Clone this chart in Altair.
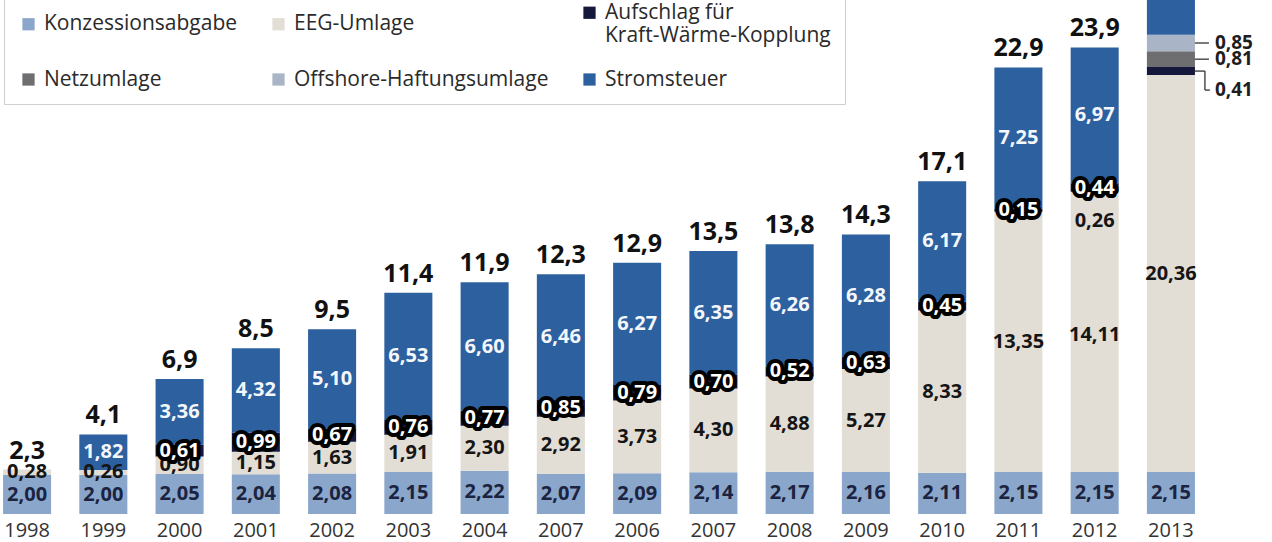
import json
import altair as alt
import pandas as pd

# ---------------- data (Mrd. Euro) ----------------
years = list(range(1998, 2014))
year_labels = ["1998", "1999", "2000", "2001", "2002", "2003", "2004", "2007",
               "2006", "2007", "2008", "2009", "2010", "2011", "2012", "2013"]

konzession = [2.00, 2.00, 2.05, 2.04, 2.08, 2.15, 2.22, 2.07, 2.09, 2.14, 2.17, 2.16, 2.11, 2.15, 2.15, 2.15]
eeg = [0.28, 0.26, 0.90, 1.15, 1.63, 1.91, 2.30, 2.92, 3.73, 4.30, 4.88, 5.27, 8.33, 13.35, 14.11, 20.36]
eeg_extra = [0, 0, 0, 0, 0, 0, 0, 0, 0, 0, 0, 0, 0, 0, 0.26, 0]   # 2012: 0,26 drawn in beige
kwk = [0, 0, 0.61, 0.99, 0.67, 0.76, 0.77, 0.85, 0.79, 0.70, 0.52, 0.63, 0.45, 0.15, 0.44, 0.41]
netz = [0, 0, 0, 0, 0, 0, 0, 0, 0, 0, 0, 0, 0, 0, 0, 0.81]
offshore = [0, 0, 0, 0, 0, 0, 0, 0, 0, 0, 0, 0, 0, 0, 0, 0.85]
stromsteuer = [0, 1.82, 3.36, 4.32, 5.10, 6.53, 6.60, 6.46, 6.27, 6.35, 6.26, 6.28, 6.17, 7.25, 6.97, 7.00]
totals = ["2,3", "4,1", "6,9", "8,5", "9,5", "11,4", "11,9", "12,3", "12,9", "13,5",
          "13,8", "14,3", "17,1", "22,9", "23,9", None]

KONZ = "Konzessionsabgabe"
EEG = "EEG-Umlage"
KWK = "Aufschlag für|Kraft-Wärme-Kopplung"
NETZ = "Netzumlage"
OFF = "Offshore-Haftungsumlage"
STROM = "Stromsteuer"

# legend fills column by column (2 rows): col1 Konz/Netz, col2 EEG/Offshore, col3 KWK/Strom
legend_order = [KONZ, NETZ, EEG, OFF, KWK, STROM]
legend_colors = ["#8aa7cb", "#6e6e70", "#e2ded5", "#a9b5c6", "#15173b", "#2d609f"]

# stacking order, bottom to top
stack = [
    (KONZ, konzession, "konz"),
    (EEG, eeg, "eeg"),
    (EEG, eeg_extra, "eeg_extra"),
    (KWK, kwk, "kwk"),
    (NETZ, netz, "side"),
    (OFF, offshore, "side"),
    (STROM, stromsteuer, "strom"),
]

rows = []
tot_rows = []
for i, yr in enumerate(years):
    base = 0.0
    for name, vals, kind in stack:
        v = vals[i]
        if v <= 0:
            continue
        k = kind
        if kind == "kwk" and yr == 2013:
            k = "side_kwk"
        rows.append({
            "Jahr": yr, "Reihe": name, "wert": v, "y0": base, "y1": base + v,
            "mid": base + v / 2, "text": f"{v:.2f}".replace(".", ","), "kind": k,
        })
        base += v
    if totals[i] is not None:
        tot_rows.append({"Jahr": yr, "top": base, "text": totals[i]})

df = pd.DataFrame(rows)
df_tot = pd.DataFrame(tot_rows)

FONT = "Open Sans"
label_expr = f"{json.dumps(year_labels)}[datum.value - {years[0]}]"

x = alt.X("Jahr:O",
          scale=alt.Scale(paddingInner=0.37, paddingOuter=0.04),
          axis=alt.Axis(title=None, labelExpr=label_expr, domain=False, ticks=False,
                        labelAngle=0, labelFont=FONT, labelFontSize=20,
                        labelColor="#333333", labelPadding=6))
yscale = alt.Scale(domain=[0, 26.36], nice=False, zero=True)

base = alt.Chart(df)

bars = base.mark_bar(clip=True).encode(
    x=x,
    y=alt.Y("y0:Q", scale=yscale, axis=None),
    y2="y1:Q",
    color=alt.Color("Reihe:N",
                    scale=alt.Scale(domain=legend_order, range=legend_colors),
                    legend=alt.Legend(
                        title=None, orient="none", legendX=4, legendY=-12,
                        columns=3, symbolType="square", symbolSize=150,
                        symbolStrokeWidth=0, labelFont=FONT, labelFontSize=21,
                        labelColor="#2a2a2a", labelOffset=5, columnPadding=30,
                        rowPadding=22, padding=14, strokeColor="#cfcfcf",
                        fillColor="white", labelLimit=400,
                        labelExpr="split(datum.label, '|')")),
)

def txt(kind_filter, **kw):
    params = dict(font=FONT, fontWeight="bold", fontSize=20, clip=True)
    params.update(kw)
    return base.transform_filter(kind_filter).mark_text(**params).encode(
        x=x, y=alt.Y("mid:Q", scale=yscale), text="text:N")

konz_lbl = txt("datum.kind == 'konz'", color="#1b2340")
eeg_lbl = txt("datum.kind == 'eeg'", color="#151515")
eeg_extra_lbl = txt("datum.kind == 'eeg_extra'", color="#151515", dy=27)
strom_lbl = txt("datum.kind == 'strom'", color="#f4f7fb")
kwk_halo = txt("datum.kind == 'kwk'", color="#000000", stroke="#000000",
               strokeWidth=8, strokeJoin="round")
kwk_lbl = txt("datum.kind == 'kwk'", color="#ffffff")

side_lbl = base.transform_filter("datum.kind == 'side'").mark_text(
    font=FONT, fontWeight="bold", fontSize=19, color="#1e1e1e", align="left", dx=44
).encode(x=x, y=alt.Y("mid:Q", scale=yscale), text="text:N")
side_kwk_lbl = base.transform_filter("datum.kind == 'side_kwk'").mark_text(
    font=FONT, fontWeight="bold", fontSize=19, color="#1e1e1e", align="left", dx=44, dy=19
).encode(x=x, y=alt.Y("mid:Q", scale=yscale), text="text:N")

side_rules = base.transform_filter("datum.kind == 'side'").mark_rule(
    color="#333333", strokeWidth=1.3, xOffset=24, x2Offset=38
).encode(x=x, x2="Jahr:O", y=alt.Y("mid:Q", scale=yscale))
kwk_rule_a = base.transform_filter("datum.kind == 'side_kwk'").mark_rule(
    color="#333333", strokeWidth=1.3, xOffset=24, x2Offset=34
).encode(x=x, x2="Jahr:O", y=alt.Y("mid:Q", scale=yscale))
kwk_rule_b = base.transform_filter("datum.kind == 'side_kwk'").mark_rule(
    color="#333333", strokeWidth=1.3, xOffset=34, y2Offset=19
).encode(x=x, y=alt.Y("mid:Q", scale=yscale), y2="mid:Q")
kwk_rule_c = base.transform_filter("datum.kind == 'side_kwk'").mark_rule(
    color="#333333", strokeWidth=1.3, xOffset=34, x2Offset=39, yOffset=19
).encode(x=x, x2="Jahr:O", y=alt.Y("mid:Q", scale=yscale))

total_lbl = alt.Chart(df_tot).mark_text(
    font=FONT, fontWeight="bold", fontSize=25, color="#111111",
    baseline="bottom", dy=-6, clip=True
).encode(x=x, y=alt.Y("top:Q", scale=yscale), text="text:N")

chart = alt.layer(
    bars, konz_lbl, eeg_lbl, eeg_extra_lbl, strom_lbl, kwk_halo, kwk_lbl,
    side_rules, kwk_rule_a, kwk_rule_b, kwk_rule_c, side_lbl, side_kwk_lbl, total_lbl
).properties(
    width=1198, height=514,
    autosize=alt.AutoSizeParams(type="none"),
    padding={"left": 0, "top": 0, "right": 74, "bottom": 28},
    background="white",
).configure_view(stroke=None)

chart.save("out.html", embed_options={"renderer": "svg", "actions": False})
